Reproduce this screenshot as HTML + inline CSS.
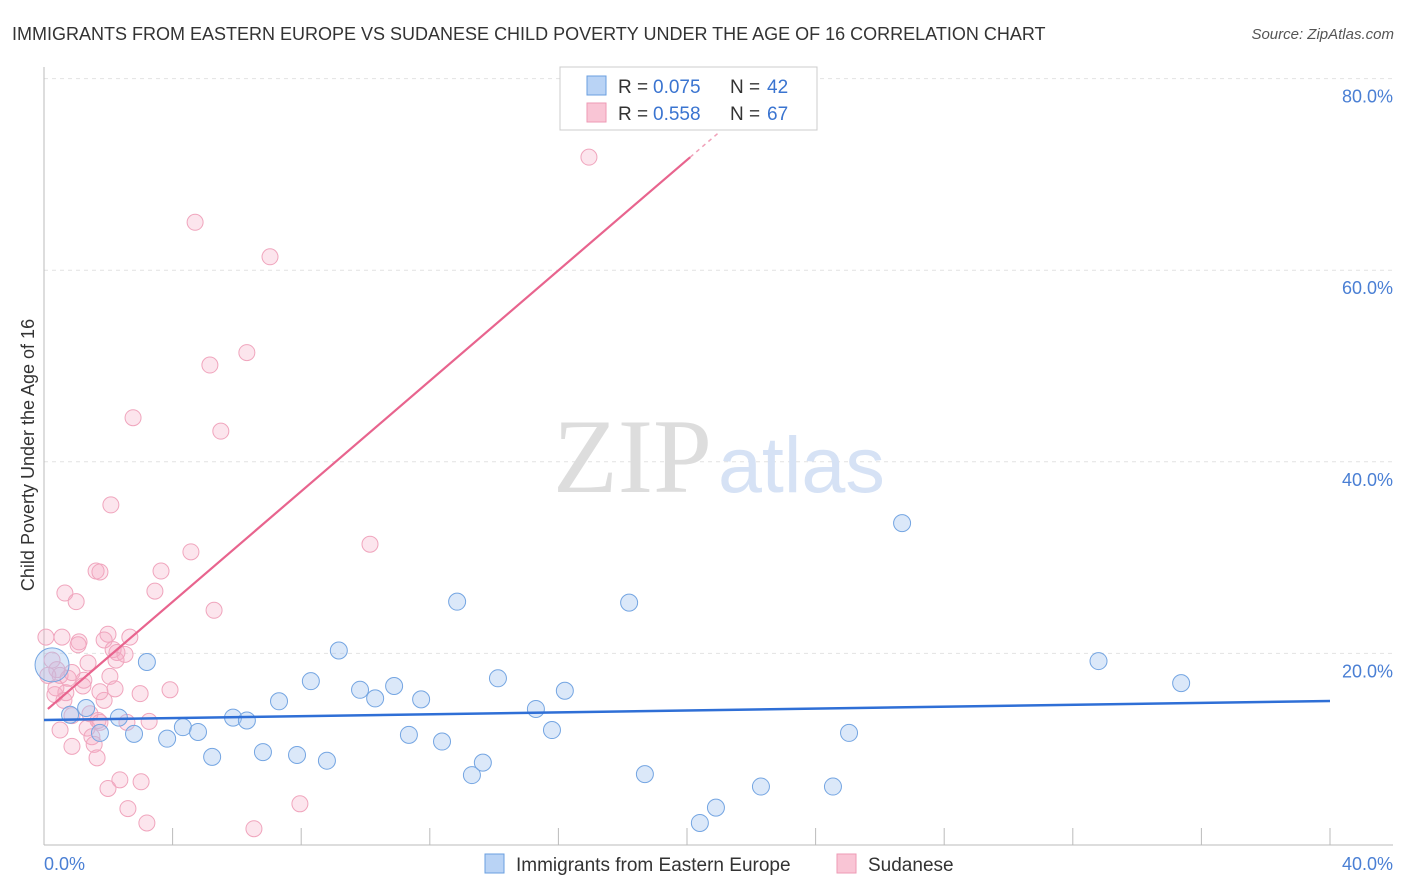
<!DOCTYPE html>
<html><head><meta charset="utf-8"><style>
body{margin:0;background:#fff;font-family:"Liberation Sans",sans-serif;}
</style></head><body>
<svg width="1406" height="892" style="display:block">
<text x="12" y="40" font-size="18" fill="#333">IMMIGRANTS FROM EASTERN EUROPE VS SUDANESE CHILD POVERTY UNDER THE AGE OF 16 CORRELATION CHART</text>
<text x="1394" y="39" font-size="15" fill="#555" font-style="italic" text-anchor="end">Source: ZipAtlas.com</text>
<g id="grid"></g>
<line x1="44" y1="67" x2="44" y2="845" stroke="#bbb"/>
<line x1="44" y1="845" x2="1393" y2="845" stroke="#bbb"/>
<text x="553" y="492" font-size="106" fill="#ddd" font-family="Liberation Serif,serif">ZIP</text>
<text x="718" y="492" font-size="79" fill="#d6e2f5">atlas</text>
<text transform="translate(34,455) rotate(-90)" font-size="18" fill="#333" text-anchor="middle">Child Poverty Under the Age of 16</text>
<text x="44" y="870" font-size="18" fill="#4a7fd4">0.0%</text>
<text x="1393" y="870" font-size="18" fill="#4a7fd4" text-anchor="end">40.0%</text>
<g id="pts"></g>
<g id="lines"></g>
<g>
<rect x="560" y="67" width="257" height="63" fill="#fff" stroke="#ccc"/>
<rect x="587" y="76" width="19" height="19" fill="#b9d3f5" stroke="#6a9fe0"/>
<rect x="587" y="103" width="19" height="19" fill="#f9c5d5" stroke="#ee9ab5"/>
<text x="618" y="93" font-size="19" fill="#333">R =</text>
<text x="653" y="93" font-size="19" fill="#3a74d0">0.075</text>
<text x="730" y="93" font-size="19" fill="#333">N =</text>
<text x="767" y="93" font-size="19" fill="#3a74d0">42</text>
<text x="618" y="120" font-size="19" fill="#333">R =</text>
<text x="653" y="120" font-size="19" fill="#3a74d0">0.558</text>
<text x="730" y="120" font-size="19" fill="#333">N =</text>
<text x="767" y="120" font-size="19" fill="#3a74d0">67</text>
</g>
<g>
<rect x="485" y="854" width="19" height="19" fill="#b9d3f5" stroke="#6a9fe0"/>
<text x="516" y="871" font-size="19" fill="#333">Immigrants from Eastern Europe</text>
<rect x="837" y="854" width="19" height="19" fill="#f9c5d5" stroke="#ee9ab5"/>
<text x="868" y="871" font-size="19" fill="#333">Sudanese</text>
</g>
</svg>
<script>
const yTicks=[20,40,60,80];
const xTicks=[0,4,8,12,16,20,24,28,32,36,40];
const blueX=[0.25,0.81,1.31,1.74,2.33,2.8,3.2,3.83,4.32,4.79,5.23,5.88,6.31,6.81,7.31,7.87,8.3,8.8,9.17,9.83,10.3,10.89,11.35,11.73,12.38,12.85,13.31,13.65,14.12,15.3,15.8,16.2,18.2,18.69,20.4,20.9,22.3,24.54,25.04,26.69,32.8,35.37];
const blueY=[18.8,13.6,14.3,11.7,13.3,11.6,19.1,11.1,12.3,11.8,9.2,13.3,13.0,9.7,15.0,9.4,17.1,8.8,20.3,16.2,15.3,16.6,11.5,15.2,10.8,25.4,7.3,8.6,17.4,14.2,12.0,16.1,25.3,7.4,2.3,3.9,6.1,6.1,11.7,33.6,19.2,16.9];
const pinkX=[16.95,4.7,7.03,6.31,5.16,2.77,5.5,2.08,10.14,4.57,1.62,1.74,3.64,3.45,0.65,1.0,5.29,0.06,0.56,1.09,1.06,1.99,2.67,1.87,2.15,2.27,2.52,0.25,1.37,0.4,0.5,0.12,0.75,0.87,2.05,1.24,1.21,0.68,0.34,2.21,2.99,3.92,1.87,0.62,1.43,1.68,1.74,2.58,3.27,0.5,1.34,1.49,1.56,0.87,1.65,2.36,1.99,3.02,2.61,3.2,6.53,7.96,0.87,0.37,1.74,2.24];
const pinkY=[71.8,65.0,61.4,51.4,50.1,44.6,43.2,35.5,31.4,30.6,28.6,28.5,28.6,26.5,26.3,25.4,24.5,21.7,21.7,21.2,20.9,22.0,21.7,21.4,20.4,20.1,19.9,19.3,19.0,18.3,17.7,17.7,17.4,18.0,17.6,17.2,16.6,15.9,15.7,16.3,15.8,16.2,15.1,15.1,13.7,13.0,12.8,12.8,12.9,12.0,12.2,11.3,10.5,10.3,9.1,6.8,5.9,6.6,3.8,2.3,1.7,4.3,13.5,16.4,16.0,19.3];
const blueLine=[0,13.05,40,15.03];
const pinkLine=[0.12,14.2,20.1,71.8,21.0,74.4];
const NS='http://www.w3.org/2000/svg';
const sx=v=>44+v*32.15, sy=v=>845-v*9.58;
function mk(t,a,p){const e=document.createElementNS(NS,t);for(const k in a)e.setAttribute(k,a[k]);p.appendChild(e);return e;}
const grid=document.getElementById('grid');
yTicks.forEach(t=>{
 const l=mk('line',{x1:44,x2:1393,y1:sy(t),y2:sy(t),stroke:'#e2e2e2','stroke-dasharray':'4,4'},grid);
 
 
 const tx=mk('text',{x:1393,y:sy(t)+24,'font-size':18,fill:'#4a7fd4','text-anchor':'end'},grid);
 tx.textContent=t.toFixed(1)+'%';
 
 
});
xTicks.forEach(t=>{
 const l=mk('line',{x1:sx(t),x2:sx(t),y1:828,y2:845,stroke:'#bbb'},grid);
 
 
});
const pts=document.getElementById('pts');
pinkX.forEach((x,i)=>{
 const c=mk('circle',{cx:sx(x),cy:sy(pinkY[i]),r:8,fill:'rgba(245,170,195,0.3)',stroke:'#f0a5bd','stroke-width':1},pts);
 
 
});
blueX.forEach((x,i)=>{
 const c=mk('circle',{cx:sx(x),cy:sy(blueY[i]),r:i==0?17:8.5,fill:'rgba(165,198,240,0.4)',stroke:'#74a5e2','stroke-width':1},pts);
 
 
});
const lines=document.getElementById('lines');
const bl=mk('line',{x1:sx(blueLine[0]),y1:sy(blueLine[1]),x2:sx(blueLine[2]),y2:sy(blueLine[3]),stroke:'#2f6fd6','stroke-width':2.5},lines);


const pl=mk('line',{x1:sx(pinkLine[0]),y1:sy(pinkLine[1]),x2:sx(pinkLine[2]),y2:sy(pinkLine[3]),stroke:'#e8648e','stroke-width':2.2},lines);


const pd=mk('line',{x1:sx(pinkLine[2]),y1:sy(pinkLine[3]),x2:sx(pinkLine[4]),y2:sy(pinkLine[5]),stroke:'#f0a0b8','stroke-width':1.5,'stroke-dasharray':'4,4'},lines);


</script>
</body></html>
